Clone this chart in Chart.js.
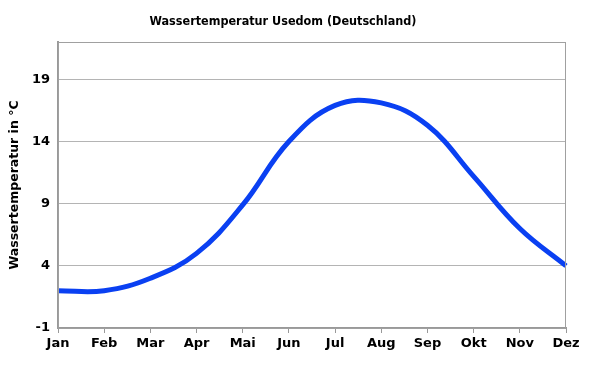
<!DOCTYPE html>
<html lang="de">
<head>
<meta charset="UTF-8">
<title>Wassertemperatur Usedom</title>
<script src="https://cdn.jsdelivr.net/npm/chart.js"></script>
<style>
body { margin: 0; background: #fff; }
#wrap { width: 589px; height: 365px; }
</style>
</head>
<body>
<div id="wrap"><canvas id="tempChart" width="589" height="365"></canvas></div>
<script>
// Monate und Wassertemperatur
const monate = ['Jan', 'Feb', 'Mar', 'Apr', 'Mai', 'Jun', 'Jul', 'Aug', 'Sep', 'Okt', 'Nov', 'Dez'];
const wassertemp = [2.0, 2.0, 3.0, 5.0, 8.9, 14.0, 16.9, 17.1, 15.3, 11.2, 7.0, 4.0];
const yTicks = [-1, 4, 9, 14, 19];
const yMin = -1;
const yMax = 22;

const gridFarbe = '#b4b4b4';
const familie = 'DejaVu Sans, Verdana, sans-serif';
const tickSchrift = { family: familie, size: 13, weight: 'bold' };

// Rahmen um die Zeichenfläche
const rahmen = {
    id: 'rahmen',
    afterDraw(chart) {
        const a = chart.chartArea;
        const ctx = chart.ctx;
        ctx.save();
        ctx.strokeStyle = '#a0a0a0';
        ctx.lineWidth = 1;
        ctx.strokeRect(a.left + 0.5, a.top + 0.5, a.right - a.left - 1, a.bottom - a.top);
        ctx.restore();
    }
};

new Chart(document.getElementById('tempChart'), {
    type: 'line',
    data: {
        labels: monate,
        datasets: [{
            data: wassertemp,
            borderColor: '#0a40f2',
            borderWidth: 5,
            tension: 0.4,
            pointRadius: 0,
            fill: false
        }]
    },
    options: {
        responsive: false,
        animation: false,
        layout: { padding: { left: 0, right: 23, top: 0, bottom: 0 } },
        plugins: {
            legend: { display: false },
            tooltip: { enabled: false },
            title: {
                display: true,
                text: 'Wassertemperatur Usedom (Deutschland)',
                color: '#000',
                font: { family: 'DejaVu Sans Condensed, ' + familie, size: 12.5, weight: 'bold' },
                padding: { top: 14, bottom: 13 }
            }
        },
        scales: {
            x: {
                offset: false,
                afterFit(s) { s.height = 37; },
                grid: { drawOnChartArea: false, drawTicks: true, tickLength: 5, color: '#999' },
                border: { color: '#999', width: 2 },
                ticks: { color: '#000', font: tickSchrift, padding: 3, maxRotation: 0, autoSkip: false }
            },
            y: {
                min: yMin,
                max: yMax,
                afterFit(s) { s.width = 58; },
                afterBuildTicks(s) { s.ticks = yTicks.map(v => ({ value: v })); },
                grid: { color: gridFarbe, drawTicks: false },
                border: { color: '#999', width: 2 },
                ticks: { color: '#000', font: tickSchrift, padding: 8 },
                title: {
                    display: true,
                    text: 'Wassertemperatur in °C',
                    color: '#000',
                    font: { family: familie, size: 12.5, weight: 'bold' },
                    padding: { top: 7, bottom: 0 }
                }
            }
        }
    },
    plugins: [rahmen]
});
</script>
</body>
</html>
